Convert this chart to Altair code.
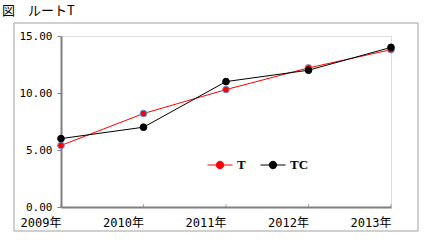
import altair as alt
import pandas as pd

years = ["2009年", "2010年", "2011年", "2012年", "2013年"]
t_values = [5.4, 8.2, 10.3, 12.2, 13.8]
tc_values = [6.0, 7.0, 11.0, 12.0, 14.0]
series_names = ["T", "TC"]
series_colors = ["#ff0000", "#000000"]
edge_colors = ["#7090d0", "#000000"]
y_ticks = [0, 5, 10, 15]
title_text = "図　ルートT"

df = pd.DataFrame({
    "year": years * 2,
    "series": ["T"] * len(years) + ["TC"] * len(years),
    "value": t_values + tc_values,
})

W, H = 330, 171
AXIS_GRAY = "#808080"

sym_path = "M-1,0H1M-0.3,0A0.3,0.3,0,1,1,0.3,0A0.3,0.3,0,1,1,-0.3,0Z"

x_enc = alt.X(
    "year:O", sort=years,
    scale=alt.Scale(type="point", padding=0),
    axis=alt.Axis(title=None, labelAngle=0, ticks=False, domainColor=AXIS_GRAY,
                  domainWidth=2, labelFont="DejaVu Sans Mono, Noto Sans CJK JP",
                  labelFontSize=12, labelPadding=10, labelBaseline="top",
                  labelColor="black"),
)
y_enc = alt.Y(
    "value:Q", scale=alt.Scale(domain=[0, 15]),
    axis=alt.Axis(title=None, values=y_ticks, format=".2f", grid=False, tickSize=4,
                  tickColor=AXIS_GRAY, domainColor=AXIS_GRAY, domainWidth=2,
                  labelFont="DejaVu Sans Mono", labelFontSize=11, labelPadding=5,
                  labelColor="black"),
)
color_enc = alt.Color(
    "series:N",
    scale=alt.Scale(domain=series_names, range=series_colors),
    legend=alt.Legend(orient="none", legendX=146, legendY=116, direction="horizontal",
                      title=None, symbolType=sym_path, symbolSize=625,
                      symbolStrokeWidth=1, labelFont="Liberation Serif",
                      labelFontSize=13, labelFontWeight="bold", labelOffset=4,
                      columnPadding=12),
)

base = alt.Chart(df)
lines = base.mark_line(strokeWidth=1).encode(x=x_enc, y=y_enc, color=color_enc)
points = base.mark_point(filled=True, opacity=1, strokeWidth=1, size=45).encode(
    x=x_enc, y=y_enc, color=color_enc,
    stroke=alt.Stroke("series:N", scale=alt.Scale(domain=series_names, range=edge_colors),
                      legend=None),
)

ticks = alt.Chart(pd.DataFrame({"year": years})).mark_tick(
    color=AXIS_GRAY, thickness=1, size=5
).encode(x=alt.X("year:O", sort=years), y=alt.value(H - 3))

frame = alt.Chart(pd.DataFrame({"a": [0]})).mark_rect(
    filled=False, stroke="#a0a0a0", strokeWidth=1
).encode(x=alt.value(-47), x2=alt.value(357), y=alt.value(-13), y2=alt.value(195))

title = alt.Chart(pd.DataFrame({"a": [0]})).mark_text(
    align="left", baseline="middle", font="Noto Sans CJK JP", fontSize=13, color="black"
).encode(x=alt.value(-59), y=alt.value(-25), text=alt.value(title_text))

chart = alt.layer(frame, title, ticks, lines, points).properties(
    width=W, height=H,
    autosize=alt.AutoSizeParams(type="none"),
    padding={"left": 61, "top": 36, "right": 42, "bottom": 41},
).configure_view(stroke=AXIS_GRAY, strokeWidth=1.5).configure(background="white")

chart.save("out.html", embed_options={"renderer": "svg", "actions": False})
